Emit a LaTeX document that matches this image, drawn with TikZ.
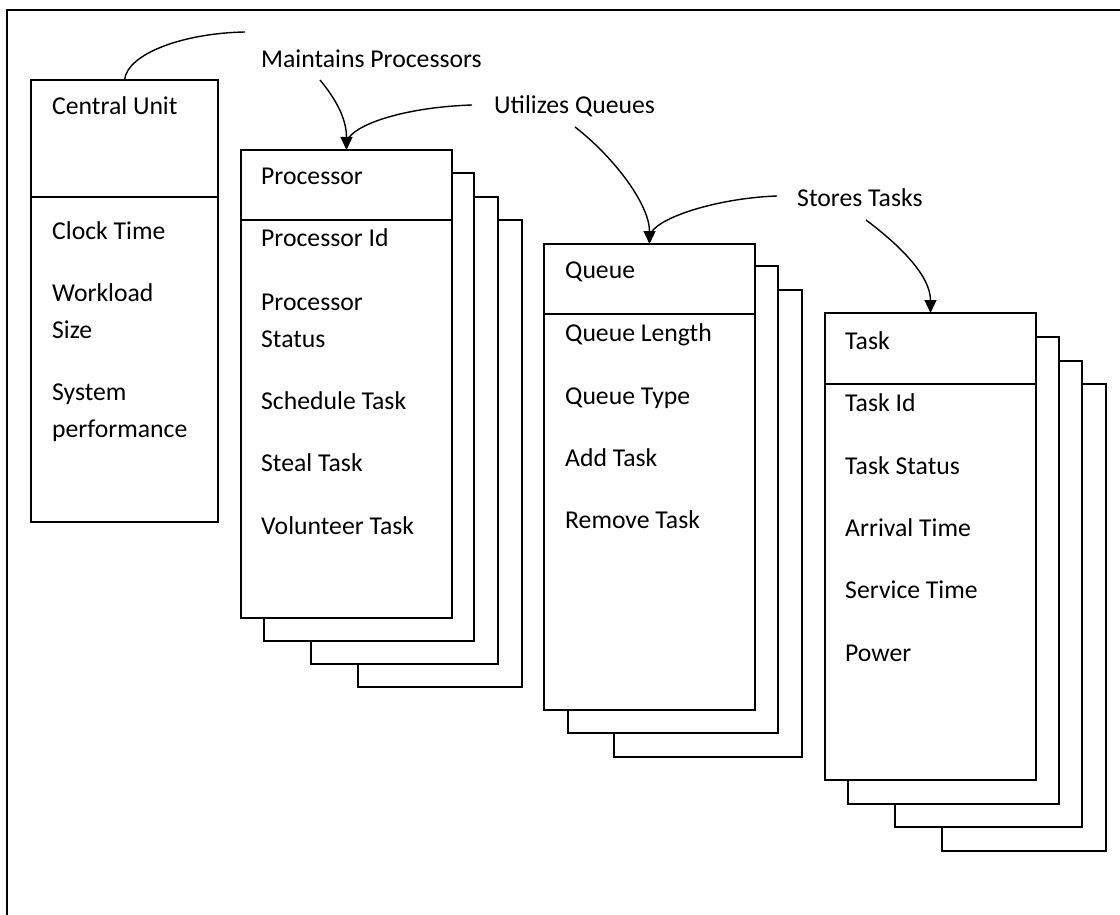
\documentclass[tikz,border=0pt]{standalone}
\usepackage{fontspec}
\setmainfont{Carlito}
\usetikzlibrary{arrows.meta}
\begin{document}
\begin{tikzpicture}[x=1pt,y=-1pt,
  box/.style={draw=black, line width=1.6pt, fill=white, inner sep=0pt, outer sep=0pt},
  front/.style={box, anchor=north west, minimum width=211pt},
  rule/.style={line width=1.6pt},
  txt/.style={anchor=base west, inner sep=0pt, font=\fontsize{25.7}{37}\selectfont},
  link/.style={line width=1.4pt},
  tip/.style={-{Triangle[length=13pt,width=12pt]}}]

\useasboundingbox (0,0) rectangle (1120,915);

% outer frame
\draw[rule] (7,915) -- (7,10) -- (1120,10);

% ---- Central Unit ----
\node[box, anchor=north west, minimum width=187pt, minimum height=442pt] (cu) at (31,80) {};
\draw[rule] (cu.west |- 0,197) -- (cu.east |- 0,197);
\node[txt] (cuName) at (52,115) {Central Unit};
\node[txt] (cuA) at (52,240) {Clock Time};
\node[txt] (cuB) at (52,301) {Workload};
\node[txt] (cuC) at (52,338) {Size};
\node[txt] (cuD) at (52,400) {System};
\node[txt] (cuE) at (52,437) {performance};

% ---- Processor stack ----
\draw[box] (358,220) rectangle (522,687);
\draw[box] (311,197) rectangle (498,664);
\draw[box] (264,173) rectangle (474,641);
\node[front, minimum height=468pt] (proc) at (241,150) {};
\draw[rule] (proc.west |- 0,220) -- (proc.east |- 0,220);
\node[txt] (procName) at (261,185) {Processor};
\node[txt] (procA) at (261,247) {Processor Id};
\node[txt] (procB) at (261,310) {Processor};
\node[txt] (procC) at (261,347) {Status};
\node[txt] (procD) at (261,409) {Schedule Task};
\node[txt] (procE) at (261,471) {Steal Task};
\node[txt] (procF) at (261,534) {Volunteer Task};

% ---- Queue stack ----
\draw[box] (614,290) rectangle (802,757);
\draw[box] (568,266) rectangle (778,733);
\node[front, minimum height=466pt] (queue) at (544,244) {};
\draw[rule] (queue.west |- 0,314) -- (queue.east |- 0,314);
\node[txt] (queueName) at (565,278) {Queue};
\node[txt] (queueA) at (565,341) {Queue Length};
\node[txt] (queueB) at (565,404) {Queue Type};
\node[txt] (queueC) at (565,466) {Add Task};
\node[txt] (queueD) at (565,528) {Remove Task};

% ---- Task stack ----
\draw[box] (942,384) rectangle (1106,851);
\draw[box] (895,361) rectangle (1082,827);
\draw[box] (848,337) rectangle (1059,804);
\node[front, minimum height=467pt] (task) at (825,313) {};
\draw[rule] (task.west |- 0,384) -- (task.east |- 0,384);
\node[txt] (taskName) at (845,349) {Task};
\node[txt] (taskA) at (845,411) {Task Id};
\node[txt] (taskB) at (845,474) {Task Status};
\node[txt] (taskC) at (845,536) {Arrival Time};
\node[txt] (taskD) at (845,598) {Service Time};
\node[txt] (taskE) at (845,661) {Power};

% ---- relation labels ----
\node[txt] (maint) at (261,68) {Maintains Processors};
\node[txt] (util) at (494,114) {Utilizes Queues};
\node[txt] (stores) at (797,207) {Stores Tasks};

% ---- connectors ----
\coordinate (cuEnd) at (245,32);
\draw[link] (cu.north) .. controls +(3,-27) and +(-60,1) .. (cuEnd);

\draw[link,tip] ([shift={(59,12)}]maint.base west)
  .. controls +(15,18) and +(0,-32) .. (proc.north);
\draw[link] ([shift={(-22,-9)}]util.base west)
  .. controls +(-62,2) and +(11.5,-16) .. ([shift={(2,-12)}]proc.north);

\draw[link,tip] ([shift={(81,13)}]util.base west)
  .. controls +(40,31) and +(0,-39) .. (queue.north);
\draw[link] ([shift={(-20,-11)}]stores.base west)
  .. controls +(-57,2) and +(10.5,-16) .. ([shift={(2,-12)}]queue.north);

\draw[link,tip] ([shift={(69,13)}]stores.base west)
  .. controls +(32,24) and +(0,-38) .. (task.north);
\end{tikzpicture}
\end{document}
